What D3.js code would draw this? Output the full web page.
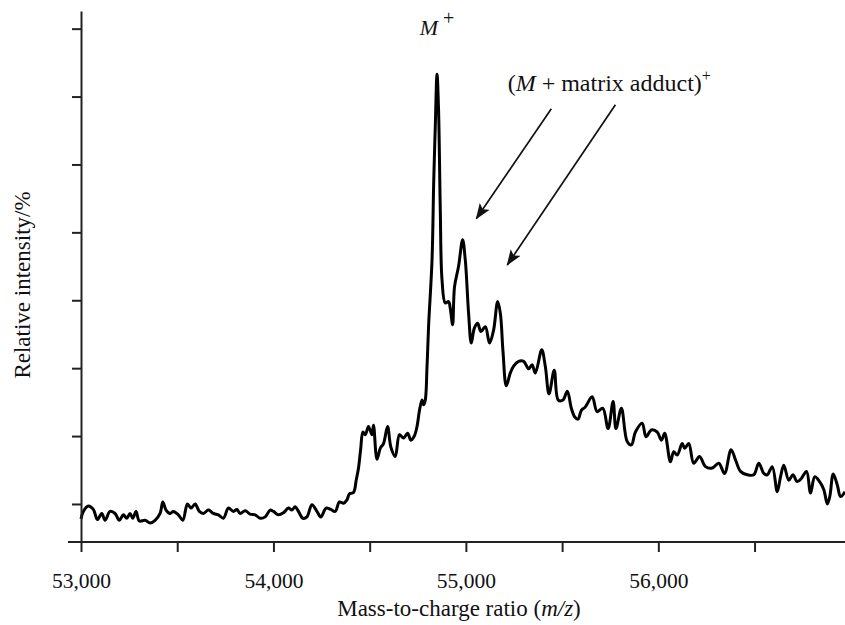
<!DOCTYPE html>
<html>
<head>
<meta charset="utf-8">
<script src="https://cdn.jsdelivr.net/npm/d3@7"></script>
<style>
  html, body { margin: 0; padding: 0; background: #fff; }
  svg { display: block; font-family: "Liberation Serif", "Times New Roman", serif; }
</style>
</head>
<body>
<svg id="chart" width="845" height="625"></svg>
<script>
// MALDI spectrum: mass-to-charge ratio vs. relative intensity
const massValues = [
  53000, 53012, 53038, 53064, 53085, 53108, 53125, 53151, 53177, 53199,
  53220, 53238, 53255, 53269, 53286, 53303, 53333, 53359, 53385, 53411,
  53425, 53442, 53463, 53480, 53506, 53529, 53553, 53572, 53593, 53615,
  53636, 53662, 53688, 53714, 53740, 53766, 53792, 53810, 53827, 53853,
  53879, 53905, 53931, 53957, 53983, 54000, 54026, 54052, 54078, 54096,
  54113, 54130, 54153, 54174, 54200, 54226, 54246, 54274, 54298, 54321,
  54343, 54364, 54382, 54395, 54416, 54430, 54442, 54453, 54465, 54477,
  54494, 54512, 54520, 54538, 54555, 54572, 54593, 54610, 54633, 54655,
  54676, 54697, 54714, 54732, 54746, 54759, 54772, 54780, 54789, 54798,
  54806, 54824, 54833, 54841, 54850, 54858, 54867, 54876, 54893, 54910,
  54919, 54931, 54941, 54962, 54983, 54997, 55014, 55028, 55044, 55061,
  55078, 55101, 55123, 55144, 55165, 55179, 55193, 55210, 55231, 55248,
  55274, 55300, 55326, 55344, 55361, 55394, 55413, 55432, 55459, 55480,
  55504, 55527, 55548, 55566, 55583, 55600, 55621, 55656, 55682, 55711,
  55739, 55765, 55780, 55808, 55838, 55860, 55881, 55916, 55936, 55964,
  55994, 56016, 56033, 56063, 56080, 56098, 56124, 56137, 56158, 56184,
  56214, 56245, 56280, 56314, 56344, 56378, 56401, 56427, 56462, 56496,
  56522, 56548, 56566, 56592, 56618, 56635, 56652, 56678, 56699, 56722,
  56744, 56770, 56791, 56813, 56838, 56860, 56878, 56891, 56909, 56930,
  56947, 56970
];
const intensityValues = [
  7.8, 8.9, 9.7, 9.2, 7.7, 8.6, 7.6, 8.9, 8.6, 7.6,
  8.4, 7.9, 8.6, 7.9, 8.9, 7.5, 7.6, 7.2, 7.6, 8.6,
  10.3, 9.1, 8.6, 8.9, 8.4, 7.6, 10.0, 9.4, 10.0, 8.9,
  8.6, 9.1, 8.6, 8.4, 7.9, 9.4, 8.9, 9.2, 8.6, 9.0,
  8.5, 8.4, 7.9, 8.1, 9.1, 8.9, 8.4, 8.7, 9.4, 9.1,
  9.6, 8.9, 7.9, 8.1, 9.9, 8.9, 8.1, 9.4, 9.2, 8.9,
  10.3, 10.1, 10.6, 11.5, 11.7, 13.5, 15.3, 18.0, 20.6, 20.2,
  21.4, 20.2, 21.6, 16.6, 18.2, 18.9, 21.4, 18.4, 17.0, 20.2,
  19.7, 20.4, 19.4, 20.0, 21.4, 23.8, 25.3, 24.6, 25.3, 30.2,
  36.1, 45.9, 57.7, 65.6, 73.3, 68.0, 53.3, 43.0, 39.6, 39.8,
  38.8, 36.4, 42.0, 45.0, 48.9, 45.9, 38.1, 33.7, 35.9, 36.6,
  35.4, 36.1, 33.7, 35.6, 39.8, 38.1, 32.4, 27.4, 29.3, 30.3,
  31.0, 31.0, 29.9, 30.5, 29.3, 32.7, 30.2, 26.2, 29.7, 25.3,
  25.3, 26.6, 24.1, 22.8, 22.5, 23.8, 24.3, 25.8, 23.6, 24.1,
  21.1, 25.1, 21.1, 24.1, 19.2, 18.7, 20.6, 21.9, 19.9, 20.9,
  20.6, 19.4, 20.4, 16.2, 17.7, 17.2, 18.9, 18.2, 18.9, 16.0,
  17.0, 15.5, 15.3, 16.0, 14.5, 18.0, 16.5, 14.8, 14.3, 14.3,
  16.0, 14.5, 14.3, 15.5, 11.8, 14.0, 15.7, 13.5, 14.3, 13.3,
  13.8, 14.8, 11.6, 14.0, 13.3, 12.1, 10.0, 11.1, 14.4, 12.8,
  11.1, 11.8
];

// Axis ticks
const xMajorTicks = [53000, 54000, 55000, 56000];
const xAllTicks = [53000, 53500, 54000, 54500, 55000, 55500, 56000, 56500];
const yTicks = [10, 20, 30, 40, 50, 60, 70, 80];

// Annotation anchors (data units)
const peakLabel = { mass: 54850, intensity: 79.1 };
const adductLabel = { mass: 55745, intensity: 70.8 };
const arrowFrom = [[55444, 68.2], [55777, 68.8]];
const arrowTo   = [[55054, 52.0], [55215, 45.2]];

const svg = d3.select("#chart");
const x = d3.scaleLinear().domain([53000, 56970]).range([81, 845]);
const y = d3.scaleLinear().domain([4.4, 82.6]).range([542, 11]);

const points = massValues.map((m, i) => [m, intensityValues[i]]);

// Spectrum trace
svg.append("path")
  .datum(points)
  .attr("fill", "none")
  .attr("stroke", "#000")
  .attr("stroke-width", 3)
  .attr("stroke-linejoin", "round")
  .attr("d", d3.line().x(d => x(d[0])).y(d => y(d[1])).curve(d3.curveCatmullRom.alpha(0.5)));

// X axis
const fmt = d3.format(",");
const xAxis = svg.append("g")
  .attr("transform", `translate(0,${y.range()[0]})`)
  .call(d3.axisBottom(x)
    .tickValues(xAllTicks)
    .tickSize(10)
    .tickSizeOuter(0)
    .tickPadding(21)
    .tickFormat(d => xMajorTicks.includes(d) ? fmt(d) : ""));
xAxis.select(".domain").remove();
xAxis.append("line")
  .attr("x1", x.range()[0] - 13).attr("x2", x.range()[1])
  .attr("stroke", "#222").attr("stroke-width", 2);
xAxis.selectAll(".tick line").attr("stroke", "#222").attr("stroke-width", 2);
xAxis.selectAll(".tick text")
  .attr("font-family", "Liberation Serif, serif")
  .attr("font-size", 21.5)
  .attr("fill", "#111");

// Y axis (unlabelled ticks)
const yAxis = svg.append("g")
  .attr("transform", `translate(${x.range()[0]},0)`)
  .call(d3.axisLeft(y).tickValues(yTicks).tickSize(9).tickSizeOuter(0).tickFormat(""));
yAxis.select(".domain").attr("stroke", "#222").attr("stroke-width", 2);
yAxis.selectAll(".tick line").attr("stroke", "#222").attr("stroke-width", 2);

// Axis titles
const xTitle = svg.append("text")
  .attr("x", 459).attr("y", 616)
  .attr("text-anchor", "middle")
  .attr("font-size", 23)
  .attr("fill", "#111");
xTitle.append("tspan").text("Mass-to-charge ratio (");
xTitle.append("tspan").attr("font-style", "italic").text("m/z");
xTitle.append("tspan").text(")");

svg.append("text")
  .attr("transform", "translate(30,285) rotate(-90)")
  .attr("text-anchor", "middle")
  .attr("font-size", 23)
  .attr("fill", "#111")
  .text("Relative intensity/%");

// Peak annotations
const mLab = svg.append("text")
  .attr("x", x(peakLabel.mass)).attr("y", y(peakLabel.intensity))
  .attr("text-anchor", "middle")
  .attr("font-size", 22)
  .attr("fill", "#111");
mLab.append("tspan").attr("font-style", "italic").text("M");
mLab.append("tspan").attr("dx", 5).attr("dy", -10).attr("font-size", 20).text("+");

const aLab = svg.append("text")
  .attr("x", x(adductLabel.mass)).attr("y", y(adductLabel.intensity))
  .attr("text-anchor", "middle")
  .attr("font-size", 24)
  .attr("fill", "#111");
aLab.append("tspan").text("(");
aLab.append("tspan").attr("font-style", "italic").text("M");
aLab.append("tspan").text(" + matrix adduct)");
aLab.append("tspan").attr("dy", -10).attr("font-size", 16).text("+");

// Arrows
svg.append("defs").append("marker")
  .attr("id", "head")
  .attr("viewBox", "0 0 16 12")
  .attr("refX", 15).attr("refY", 6)
  .attr("markerWidth", 16).attr("markerHeight", 12)
  .attr("markerUnits", "userSpaceOnUse")
  .attr("orient", "auto")
  .append("path").attr("d", "M0,0 L16,6 L0,12 L3.5,6 Z").attr("fill", "#111");

arrowFrom.forEach((f, i) => {
  const t = arrowTo[i];
  svg.append("line")
    .attr("x1", x(f[0])).attr("y1", y(f[1]))
    .attr("x2", x(t[0])).attr("y2", y(t[1]))
    .attr("stroke", "#111").attr("stroke-width", 1.7)
    .attr("marker-end", "url(#head)");
});
</script>
</body>
</html>
